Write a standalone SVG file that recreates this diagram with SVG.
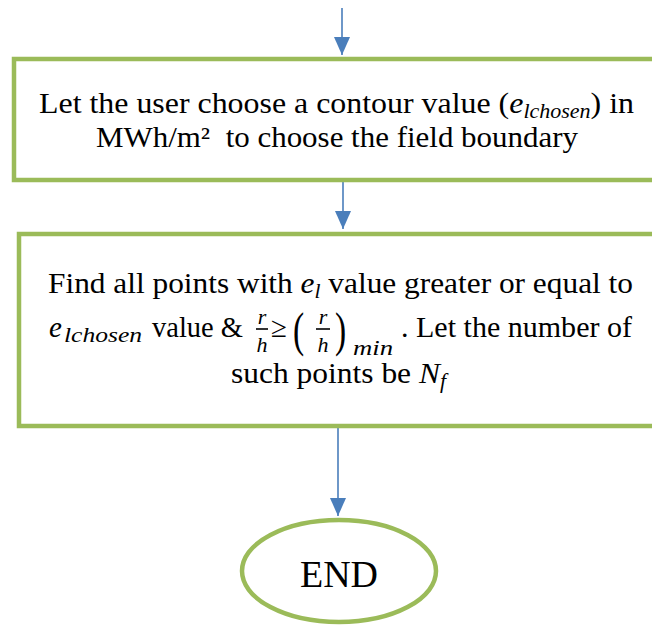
<svg xmlns="http://www.w3.org/2000/svg" width="652" height="626" viewBox="0 0 652 626">
<style>
.box{fill:#fff;stroke:#9BBB59;stroke-width:4.5}
.con{stroke:#4A7EBB;stroke-width:1.6;fill:none}
.t{font-family:"Liberation Serif","Times New Roman",serif;font-size:29px;fill:#000}
.i{font-style:italic}
.s{font-size:20px;font-style:italic}
.f{font-size:22px;font-style:italic}
.p{font-size:48px}
.end{font-family:"Liberation Serif","Times New Roman",serif;font-size:38px;fill:#000}
</style>
<defs>
<marker id="ah" markerUnits="userSpaceOnUse" markerWidth="18" markerHeight="16" refX="18" refY="8" orient="auto" viewBox="0 0 18 16">
<path d="M0,0 L18,8 L0,16 z" fill="#4A7EBB"/>
</marker>
</defs>
<rect width="652" height="626" fill="#fff"/>
<g id="connectors">
<line class="con" x1="342" y1="8" x2="342" y2="55" marker-end="url(#ah)"/>
<line class="con" x1="343" y1="182" x2="343" y2="229" marker-end="url(#ah)"/>
<line class="con" x1="338" y1="428" x2="338" y2="516" marker-end="url(#ah)"/>
</g>
<g id="choose">
<rect class="box" x="14" y="59" width="700" height="121"/>
<text class="t" x="39" y="113" textLength="595" lengthAdjust="spacingAndGlyphs">Let the user choose a contour value (<tspan class="i">e</tspan><tspan class="s" dy="5">lchosen</tspan><tspan dy="-5">) in</tspan></text>
<text class="t" x="96" y="147" textLength="482" lengthAdjust="spacingAndGlyphs">MWh/m² &#160;to choose the field boundary</text>
</g>
<g id="find">
<rect class="box" x="19" y="234" width="700" height="192"/>
<text class="t" x="48" y="293" textLength="585" lengthAdjust="spacingAndGlyphs">Find all points with <tspan class="i">e</tspan><tspan class="s" dy="5">l</tspan><tspan dy="-5"> value greater or equal to</tspan></text>
<text class="t i" x="49" y="337">e</text>
<text class="t s" x="64" y="342" textLength="78" lengthAdjust="spacingAndGlyphs">lchosen</text>
<text class="t" x="152" y="337" textLength="91" lengthAdjust="spacingAndGlyphs">value &amp;</text>
<text class="t f" x="262" y="324" text-anchor="middle">r</text>
<line x1="256" y1="329" x2="268" y2="329" stroke="#000" stroke-width="1.6"/>
<text class="t f" x="262" y="352" text-anchor="middle">h</text>
<text class="t" x="271" y="337">≥</text>
<text class="t p" x="293" y="346" transform="translate(293 0) scale(0.7 1) translate(-293 0)">(</text>
<text class="t f" x="323" y="324" text-anchor="middle">r</text>
<line x1="316" y1="329" x2="330" y2="329" stroke="#000" stroke-width="1.6"/>
<text class="t f" x="323" y="352" text-anchor="middle">h</text>
<text class="t p" x="335" y="346" transform="translate(335 0) scale(0.7 1) translate(-335 0)">)</text>
<text class="t s" x="353" y="355" textLength="40" lengthAdjust="spacingAndGlyphs">min</text>
<text class="t" x="401" y="337" textLength="231" lengthAdjust="spacingAndGlyphs">. Let the number of</text>
<text class="t" x="231" y="383" textLength="215" lengthAdjust="spacingAndGlyphs">such points be <tspan class="i">N</tspan><tspan class="s" dy="5">f</tspan></text>
</g>
<g id="end">
<ellipse class="box" cx="339" cy="571" rx="97" ry="51"/>
<text class="end" x="339" y="587" text-anchor="middle">END</text>
</g>
</svg>
